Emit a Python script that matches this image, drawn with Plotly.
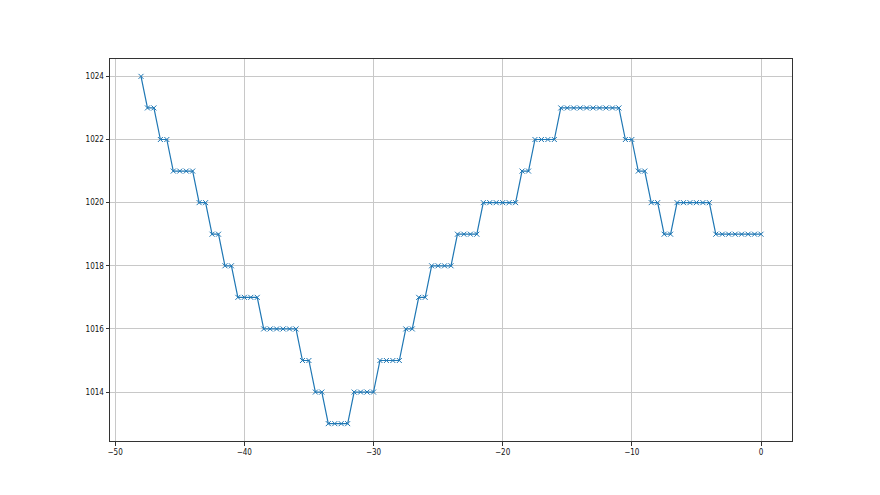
import numpy as np
import plotly.graph_objects as go

# x positions: every half unit from -48 to 0
x_start = -48.0
x_step = 0.5

# pressure levels with run lengths (level, count)
levels = [1024, 1023, 1022, 1021, 1020, 1019, 1018, 1017, 1016, 1015, 1014, 1013,
          1014, 1015, 1016, 1017, 1018, 1019, 1020, 1021, 1022, 1023, 1022, 1021,
          1020, 1019, 1020, 1019]
counts = [1, 2, 2, 4, 2, 2, 2, 4, 6, 2, 2, 4,
          4, 4, 2, 2, 4, 4, 6, 2, 4, 10, 2, 2,
          2, 2, 6, 8]

y_values = []
for lv, c in zip(levels, counts):
    y_values += [lv] * c
x_values = [x_start + i * x_step for i in range(len(y_values))]

x_ticks = [-50, -40, -30, -20, -10, 0]
y_ticks = [1014, 1016, 1018, 1020, 1022, 1024]

fig = go.Figure()
fig.add_trace(go.Scatter(
    x=x_values, y=y_values, mode="lines+markers",
    line=dict(color="#1f77b4", width=1.2),
    marker=dict(symbol="x-thin", size=5, line=dict(color="#1f77b4", width=1)),
    showlegend=False,
))

axis_common = dict(
    showline=True, linecolor="#333333", linewidth=1, mirror=True,
    showgrid=True, gridcolor="#c8c8c8", gridwidth=0.8,
    ticks="outside", ticklen=3.5, tickwidth=0.8, tickcolor="#333333",
    zeroline=False,
    tickfont=dict(family="DejaVu Sans Condensed, DejaVu Sans", size=8, color="#111111"),
)

fig.update_layout(
    width=880, height=495,
    margin=dict(l=102, r=96, t=51, b=62),
    paper_bgcolor="white", plot_bgcolor="white",
    xaxis=dict(range=[-50.4, 2.4], tickvals=x_ticks,
               ticktext=[("\u2212" + str(-v)) if v < 0 else str(v) for v in x_ticks],
               **axis_common),
    yaxis=dict(range=[1012.45, 1024.55], tickvals=y_ticks, **axis_common),
)

fig.write_html("out.html")
